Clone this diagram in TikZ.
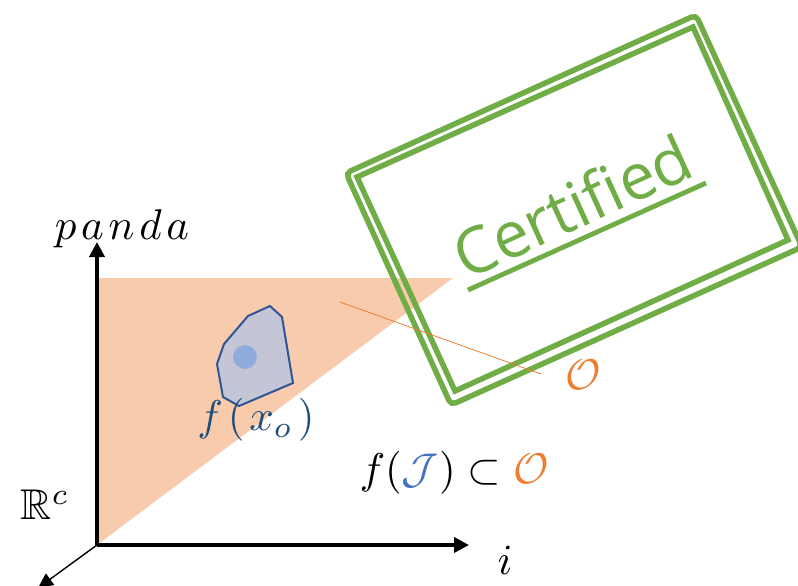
\documentclass[tikz,border=0pt]{standalone}
\usepackage{amsmath}
\usepackage{amssymb}
\usepackage{xcolor}
\usepackage{fontspec}
\newfontfamily\certfont{Open Sans}
\definecolor{certgrn}{RGB}{112,173,71}
\definecolor{regorg}{RGB}{237,125,49}
\definecolor{regfill}{RGB}{248,203,173}
\definecolor{blobblue}{RGB}{47,85,151}
\definecolor{blobfill}{RGB}{197,198,213}
\definecolor{dotblue}{RGB}{143,170,220}
\definecolor{inblue}{RGB}{68,114,196}
\definecolor{labelblue}{RGB}{31,78,121}
\usetikzlibrary{arrows.meta}
\tikzset{
  axis/.style={-{Triangle[length=15pt,width=15pt]}, line width=3.6pt, black},
  thinaxis/.style={-{Triangle[length=15pt,width=14pt]}, line width=1.4pt, black},
  frameline/.style={draw=certgrn, line width=5.5pt},
  mathlabel/.style={scale=4.3, inner sep=0pt},
}
\begin{document}
\begin{tikzpicture}[x=1pt,y=-1pt]
  \useasboundingbox (0,0) rectangle (798,586);
  \clip (0,0) rectangle (798,586);
  \coordinate (origin) at (97,545);
  \coordinate (topend) at (97,242);
  \coordinate (rightend) at (469,545);
  \coordinate (depthend) at (38,588);
  \coordinate (apex) at (453,278);
  \coordinate (corner) at (97,278);
  \coordinate (lineA) at (340,302);
  \coordinate (lineB) at (541,374);
  \coordinate (underA) at (468,290);
  \coordinate (underB) at (706,183);
  % output region
  \fill[regfill] (corner) -- (apex) -- (origin) -- cycle;
  % certificate frame
  \draw[frameline, rounded corners=5pt] (346,173) -- (696,15) -- (802,247) -- (451,405) -- cycle;
  \draw[frameline, miter limit=10] (357,177) -- (693,27) -- (788,240) -- (455,391) -- cycle;
  \node[font=\certfont\fontsize{64}{74}\selectfont, text=certgrn, rotate=24.5,
        anchor=base, inner sep=0pt] (cert) at (582,227.5) {Certified};
  \draw[certgrn, line width=4.8pt] (underA) -- (underB);
  % input set image
  \draw[draw=blobblue, fill=blobfill, line width=2pt]
    (270,306) -- (282,317) -- (293,383) -- (239,406) -- (223,397)
    -- (217,364) -- (224,344) -- (248,316) -- cycle;
  \node[circle, fill=dotblue, draw=dotblue!85!blobfill, line width=1pt,
        minimum size=23pt, inner sep=0pt] (xdot) at (245,357) {};
  \draw[regorg, line width=0.8pt] (lineA) -- (lineB);
  % axes
  \draw[axis] (origin) -- (topend);
  \draw[axis] (origin) -- (rightend);
  \draw[thinaxis] (origin) -- (depthend);
  % labels
  \node[mathlabel] (panda) at (122,229) {$p\mkern2mu a\mkern2mu n\mkern2mu d\mkern2mu a$};
  \node[mathlabel] (ilabel) at (505,560) {$i$};
  \node[mathlabel] (rc) at (45,505) {$\mathbb{R}^{c}$};
  \node[mathlabel, text=labelblue] (fxo) at (256,420) {$f\mkern2mu(\mkern2mu x_o\mkern2mu)$};
  \node[mathlabel, text=regorg] (olabel) at (583,375) {$\mathcal{O}$};
  \node[mathlabel] (fset) at (454,473)
    {$f(\textcolor{inblue}{\mathcal{J}})\subset\textcolor{regorg}{\mathcal{O}}$};
\end{tikzpicture}
\end{document}
